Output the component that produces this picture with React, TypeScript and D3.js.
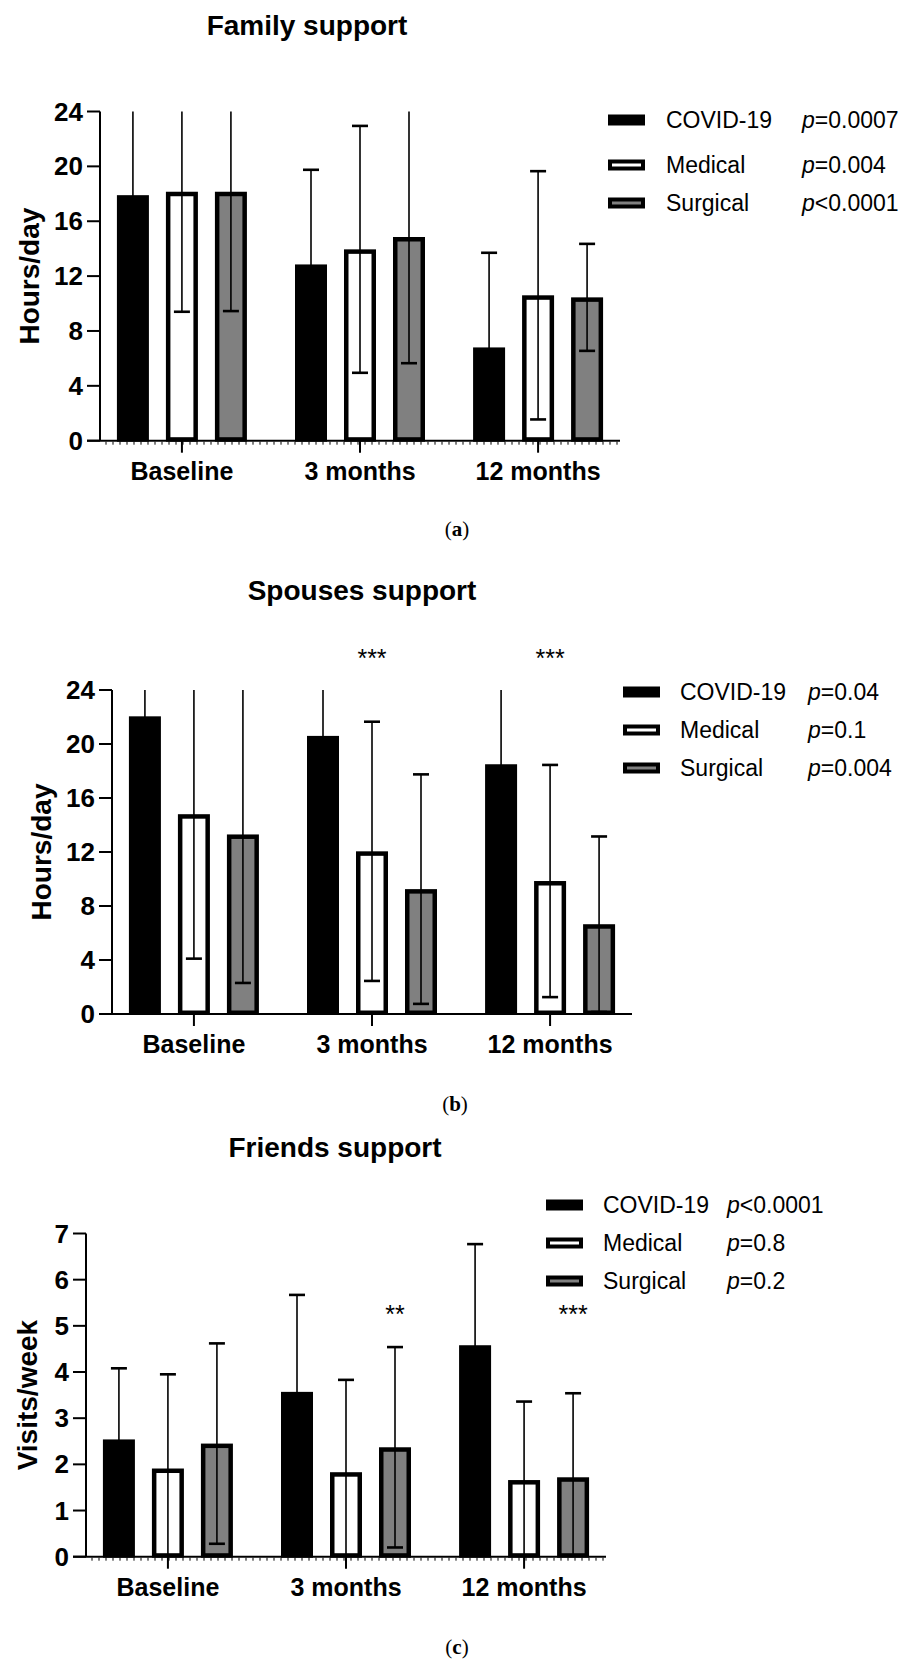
import * as d3 from "d3";

const FONT = "'Liberation Sans', Arial, Helvetica, sans-serif";

// shared categories / series
const groups = ["Baseline", "3 months", "12 months"];
const seriesNames = ["COVID-19", "Medical", "Surgical"];
const seriesFill = ["#000000", "#ffffff", "#808080"];

// (a) Family support, hours/day (mean, SD)
const familyCovid = [17.9, 12.85, 6.8];
const familyCovidSd = [7.0, 6.9, 6.9];
const familyMedical = [18.15, 13.95, 10.6];
const familyMedicalSd = [8.75, 9.0, 9.05];
const familySurgical = [18.15, 14.85, 10.45];
const familySurgicalSd = [8.7, 9.2, 3.9];
const familyP = ["=0.0007", "=0.004", "<0.0001"];
const familyStars = ["", "", ""];

// (b) Spouses support, hours/day
const spouseCovid = [22.05, 20.6, 18.5];
const spouseCovidSd = [5.0, 5.0, 7.0];
const spouseMedical = [14.8, 12.05, 9.85];
const spouseMedicalSd = [10.7, 9.6, 8.6];
const spouseSurgical = [13.3, 9.25, 6.65];
const spouseSurgicalSd = [11.0, 8.5, 6.5];
const spouseP = ["=0.04", "=0.1", "=0.004"];
const spouseStars = ["", "***", "***"];

// (c) Friends support, visits/week
const friendsCovid = [2.54, 3.57, 4.58];
const friendsCovidSd = [1.54, 2.1, 2.19];
const friendsMedical = [1.91, 1.83, 1.66];
const friendsMedicalSd = [2.04, 2.0, 1.7];
const friendsSurgical = [2.45, 2.37, 1.72];
const friendsSurgicalSd = [2.17, 2.17, 1.82];
const friendsP = ["<0.0001", "=0.8", "=0.2"];
const friendsStars = ["", "**", "***"];

const hoursTicks = [0, 4, 8, 12, 16, 20, 24];
const visitsTicks = [0, 1, 2, 3, 4, 5, 6, 7];

const panels = [
  {
    title: "Family support", yLabel: "Hours/day", caption: "a",
    means: [familyCovid, familyMedical, familySurgical],
    sds: [familyCovidSd, familyMedicalSd, familySurgicalSd],
    pvals: familyP, stars: familyStars, starSeries: 1, ticks: hoursTicks,
    axisX: 100, top: 111.5, bottom: 440.7, titleX: 307, titleY: 35, yTitleX: 29,
    legendX: 608, legendTextX: 666, legendPX: 802, legendRows: [120, 165, 203],
    dotted: true, captionX: 457, captionY: 536, starsY: 0,
  },
  {
    title: "Spouses support", yLabel: "Hours/day", caption: "b",
    means: [spouseCovid, spouseMedical, spouseSurgical],
    sds: [spouseCovidSd, spouseMedicalSd, spouseSurgicalSd],
    pvals: spouseP, stars: spouseStars, starSeries: 1, ticks: hoursTicks,
    axisX: 112, top: 690, bottom: 1014, titleX: 362, titleY: 600, yTitleX: 41,
    legendX: 623, legendTextX: 680, legendPX: 808, legendRows: [692, 730, 768],
    dotted: false, captionX: 455, captionY: 1111, starsY: 667,
  },
  {
    title: "Friends support", yLabel: "Visits/week", caption: "c",
    means: [friendsCovid, friendsMedical, friendsSurgical],
    sds: [friendsCovidSd, friendsMedicalSd, friendsSurgicalSd],
    pvals: friendsP, stars: friendsStars, starSeries: 2, ticks: visitsTicks,
    axisX: 86, top: 1233.5, bottom: 1556.7, titleX: 335, titleY: 1157, yTitleX: 27,
    legendX: 546, legendTextX: 603, legendPX: 727, legendRows: [1205, 1243, 1281],
    dotted: true, captionX: 457, captionY: 1654, starsY: 1323,
  },
];

const AXIS_LEN = 520;
const BAR_STEP = 49;
const BAR_W = 32;
const BAR_STROKE = 4.5;
const TICK = 13;

function Panel({ p }: { p: any }) {
  const yMax = p.ticks[p.ticks.length - 1];
  const y = d3.scaleLinear().domain([0, yMax]).range([p.bottom, p.top]);
  const x = d3.scalePoint<string>()
    .domain(groups)
    .range([p.axisX, p.axisX + AXIS_LEN])
    .padding(0.46);
  const barX = (g: string, s: number) => (x(g) as number) + (s - 1) * BAR_STEP;
  const clamp = (v: number) => Math.max(0, Math.min(yMax, v));
  const minor = d3.range(p.axisX + 6, p.axisX + AXIS_LEN, 7);

  return (
    <g>
      <text x={p.titleX} y={p.titleY} textAnchor="middle" fontFamily={FONT}
        fontWeight="bold" fontSize={28}>{p.title}</text>

      {/* bars */}
      {p.means.map((vals: number[], s: number) =>
        vals.map((v, gi) => {
          const cx = barX(groups[gi], s);
          const yt = y(v) + BAR_STROKE / 2;
          return (
            <rect key={`b${s}-${gi}`} x={cx - BAR_W / 2 + BAR_STROKE / 2} y={yt}
              width={BAR_W - BAR_STROKE} height={p.bottom - yt - BAR_STROKE / 2 + 1}
              fill={seriesFill[s]} stroke="#000" strokeWidth={BAR_STROKE} />
          );
        })
      )}

      {/* error bars (mean ± SD), clipped to axis range */}
      {p.means.map((vals: number[], s: number) =>
        vals.map((v, gi) => {
          const cx = barX(groups[gi], s);
          const hi = v + p.sds[s][gi];
          const lo = v - p.sds[s][gi];
          return (
            <g key={`e${s}-${gi}`} stroke="#000">
              <line x1={cx} x2={cx} y1={y(clamp(lo))} y2={y(clamp(hi))} strokeWidth={1.6} />
              {hi <= yMax && <line x1={cx - 8} x2={cx + 8} y1={y(hi)} y2={y(hi)} strokeWidth={2.6} />}
              {lo >= 0 && <line x1={cx - 8} x2={cx + 8} y1={y(lo)} y2={y(lo)} strokeWidth={2.6} />}
            </g>
          );
        })
      )}

      {/* y axis */}
      <line x1={p.axisX} x2={p.axisX} y1={p.top} y2={p.bottom} stroke="#000" strokeWidth={2} />
      {p.ticks.map((t: number) => (
        <g key={`t${t}`}>
          <line x1={p.axisX - TICK} x2={p.axisX} y1={y(t)} y2={y(t)} stroke="#000" strokeWidth={2} />
          <text x={p.axisX - 17} y={y(t)} textAnchor="end" dominantBaseline="central"
            fontFamily={FONT} fontWeight="bold" fontSize={26}>{t}</text>
        </g>
      ))}
      <text transform={`translate(${p.yTitleX},${(p.top + p.bottom) / 2}) rotate(-90)`}
        textAnchor="middle" dominantBaseline="central" fontFamily={FONT}
        fontWeight="bold" fontSize={28}>{p.yLabel}</text>

      {/* x axis */}
      <line x1={p.axisX - TICK} x2={p.axisX + AXIS_LEN} y1={p.bottom} y2={p.bottom}
        stroke="#000" strokeWidth={2} />
      {p.dotted && minor.map((m: number) => (
        <line key={`m${m}`} x1={m} x2={m} y1={p.bottom + 1} y2={p.bottom + 4}
          stroke="#000" strokeWidth={1} />
      ))}
      {groups.map((g) => (
        <g key={g}>
          <line x1={x(g)} x2={x(g)} y1={p.bottom} y2={p.bottom + 12} stroke="#000" strokeWidth={2} />
          <text x={x(g)} y={p.bottom + 39} textAnchor="middle" fontFamily={FONT}
            fontWeight="bold" fontSize={25}>{g}</text>
        </g>
      ))}

      {/* significance marks */}
      {p.stars.map((st: string, gi: number) => st && (
        <text key={`s${gi}`} x={barX(groups[gi], p.starSeries)} y={p.starsY}
          textAnchor="middle" fontFamily={FONT} fontSize={25}>{st}</text>
      ))}

      {/* legend */}
      {seriesNames.map((name, s) => (
        <g key={name}>
          <rect x={p.legendX + 2} y={p.legendRows[s] - 3.5} width={33} height={7}
            fill={seriesFill[s]} stroke="#000" strokeWidth={4} />
          <text x={p.legendTextX} y={p.legendRows[s]} dominantBaseline="central"
            fontFamily={FONT} fontSize={23}>{name}</text>
          <text x={p.legendPX} y={p.legendRows[s]} dominantBaseline="central"
            fontFamily={FONT} fontSize={23}>
            <tspan fontStyle="italic">p</tspan>{p.pvals[s]}
          </text>
        </g>
      ))}

      <text x={p.captionX} y={p.captionY} textAnchor="middle"
        fontFamily="'Liberation Serif', 'Times New Roman', serif" fontSize={21}>
        (<tspan fontWeight="bold">{p.caption}</tspan>)
      </text>
    </g>
  );
}

export default function App() {
  return (
    <svg width={909} height={1659} viewBox="0 0 909 1659"
      style={{ position: "absolute", left: 0, top: 0, background: "#fff" }}>
      <rect width={909} height={1659} fill="#fff" />
      {panels.map((p) => <Panel key={p.caption} p={p} />)}
    </svg>
  );
}
